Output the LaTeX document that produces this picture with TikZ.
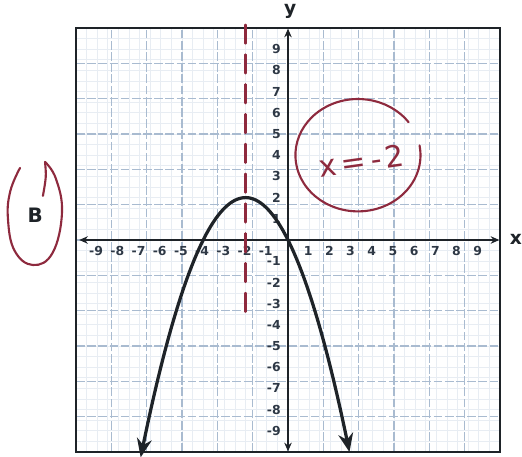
\documentclass[tikz,border=0pt]{standalone}
\usepackage{fontspec}
\setsansfont{DejaVu Sans}
\usetikzlibrary{arrows.meta}
\definecolor{gridblue}{HTML}{A9BBD0}
\definecolor{gridfaint}{HTML}{E8EDF3}
\definecolor{pen}{HTML}{8E2A3E}
\definecolor{ink}{HTML}{1E2328}
\definecolor{labink}{HTML}{2E3845}
\tikzset{
  gridline/.style={gridblue, line width=1.3pt, dash pattern=on 7pt off 2pt},
  gridminor/.style={gridfaint, line width=0.6pt},
  frame/.style={ink, line width=2.2pt},
  axisline/.style={ink, line width=1.8pt, {Stealth[length=7pt,width=6pt]}-{Stealth[length=7pt,width=6pt]}},
  curve/.style={ink, line width=2.6pt, {Stealth[length=15pt,width=12pt]}-{Stealth[length=15pt,width=12pt]}},
  ticklab/.style={font=\sffamily\bfseries\fontsize{10}{10}\selectfont, text=labink, inner sep=0.5pt},
  axlab/.style={font=\sffamily\bfseries\fontsize{15}{15}\selectfont, text=ink},
  penline/.style={pen, line width=1.7pt, line cap=round},
}
\begin{document}
\begin{tikzpicture}[x=0.6cm,y=0.6cm]
\useasboundingbox (-13.585,-10.236) rectangle (11.038,11.321);
\fill[white] (-13.585,-10.236) rectangle (11.038,11.321);
% grid
\draw[gridminor, step=0.5] (-10,-10) grid (10,10);
\draw[gridline] (-10,-10) grid (10,10);
% frame
\draw[frame] (-10,-10) rectangle (10,10);
% axes
\coordinate (xl) at (-9.85,0);
\coordinate (xr) at (9.97,0);
\coordinate (yb) at (0,-9.97);
\coordinate (yt) at (0,9.97);
\draw[axisline] (xl) -- (xr);
\draw[axisline] (yb) -- (yt);
\node[axlab] (xlab) at (10.75,0.05) {x};
\node[axlab] (ylab) at (0.1,10.8) {y};
% tick labels
\foreach \i in {-9,...,-1,1,2,...,9} {
  \node[ticklab] (xt\i) at (\i-0.05,-0.5) {\i};
}
\foreach \i in {-9,...,-1,1,2,...,9} {
  \node[ticklab, anchor=east] (yt\i) at (-0.3,\i) {\i};
}
% parabola
\draw[curve] plot[domain=-6.95:2.9, samples=90, smooth] (\x, {-0.5*(\x+2)^2+2});
% red dashed axis of symmetry
\coordinate (sa) at (-2,10.15);
\coordinate (sb) at (-2,-3.65);
\draw[penline, line width=2pt, dash pattern=on 15pt off 9pt] (sa) -- (sb);
% circled x=-2
\node[pen, font=\sffamily\fontsize{24}{24}\selectfont, rotate=8, inner sep=0pt] (eq) at (3.45,3.75) {x\hspace{4pt}=\hspace{4pt}-\hspace{3pt}2};
\draw[penline] (3.3,4.0) ++(36:2.95 and 2.65) arc[start angle=36, end angle=370, x radius=2.95, y radius=2.65];
% circled B
\node[font=\sffamily\bfseries\fontsize{16}{16}\selectfont, text=ink] (B) at (-11.93,1.18) {B};
\draw[penline] plot[smooth, tension=0.7] coordinates {(-12.64,3.40) (-13.1,2.3) (-13.21,1.0) (-12.9,-0.5) (-12.03,-1.18) (-11.1,-0.6) (-10.66,1.3) (-10.95,2.9) (-11.46,3.68)};
\draw[penline] (-11.46,3.68) .. controls (-11.4,3.0) .. (-11.56,2.08);
\end{tikzpicture}
\end{document}
